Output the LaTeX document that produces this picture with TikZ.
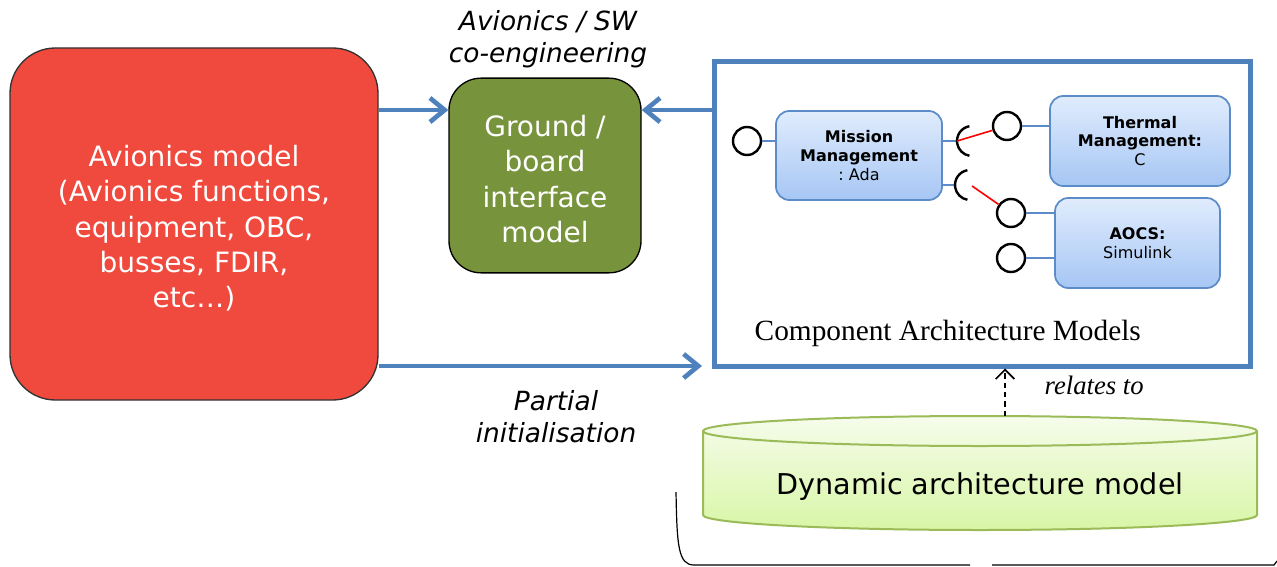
\documentclass[tikz,border=0pt]{standalone}
\usepackage{fontspec}
\setmainfont{DejaVu Sans}
\newfontfamily\tnr{Liberation Serif}
\usetikzlibrary{arrows.meta,calc}
\definecolor{redbox}{HTML}{F0493D}
\definecolor{greenbox}{HTML}{77933C}
\definecolor{frameblue}{HTML}{4F81BD}
\definecolor{compborder}{HTML}{5B8CC8}
\definecolor{comptop}{HTML}{E0ECFD}
\definecolor{compbot}{HTML}{A6C6F4}
\definecolor{cyltop}{HTML}{F6FCEC}
\definecolor{cylbot}{HTML}{D8F6A6}
\definecolor{cylborder}{HTML}{9BBB59}
\definecolor{linkred}{HTML}{FF0000}
\tikzset{
  bigtext/.style={font=\fontsize{21}{26.5}\selectfont, text=white, align=center},
  barrow/.style={draw=frameblue, line width=3.5pt, -{Straight Barb[length=11pt,width=18pt,line width=3.5pt]}},
  compbox/.style={draw=compborder, line width=1.3pt, rounded corners=10pt, top color=comptop, bottom color=compbot, inner sep=0pt, align=center, font=\fontsize{12}{14.2}\selectfont},
  port/.style={circle, draw=black, line width=1.8pt, minimum size=21pt, inner sep=0pt, fill=white},
  plink/.style={draw=compborder, line width=1.5pt},
  rlink/.style={draw=linkred, line width=1.2pt},
  sock/.style={draw=black, line width=1.8pt},
  ital/.style={font=\fontsize{19.8}{24}\selectfont\itshape, align=center}
}
\begin{document}
\begin{tikzpicture}[x=0.75pt,y=-0.75pt]
\useasboundingbox (0,0) rectangle (1277,567);
% main boxes
\node[draw=black!80, line width=1pt, fill=redbox, rounded corners=34pt, minimum width=276pt, minimum height=264pt, inner sep=0pt] (red) at (194,224) {};
\node[bigtext] (redtext) at (194,228.5)
  {Avionics model\\(Avionics functions,\\equipment, OBC,\\busses, FDIR,\\etc…)};
\node[draw=black, line width=1pt, fill=greenbox, rounded corners=24pt, minimum width=144pt, minimum height=146pt, inner sep=0pt] (green) at (545,175.5) {};
\node[bigtext] (greentext) at (545,179)
  {Ground /\\board\\interface\\model};
\node[draw=frameblue, line width=3.75pt, minimum width=402pt, minimum height=228pt, inner sep=0pt] (frame) at (982,214) {};
% labels
\node[ital] (t1) at (548,39) {Avionics / SW\\co-engineering};
\node[ital] (t2) at (556,417) {Partial\\initialisation};
\node[anchor=west, font=\fontsize{22}{24}\tnr] (t3) at (750,333) {Component Architecture Models};
\node[anchor=west, font=\fontsize{20}{24}\tnr\itshape] (t4) at (1040,385) {relates to};
% arrows
\coordinate (ya) at (0,110);
\coordinate (yb) at (0,366);
\coordinate (tipb) at (702,366);
\draw[barrow] (red.east |- ya) -- (green.west |- ya);
\draw[barrow] (frame.west |- ya) -- (green.east |- ya);
\draw[barrow] (red.east |- yb) -- (tipb);
% components
\node[compbox, minimum width=124.5pt, minimum height=66.75pt] (mm) at (859,155.5) {\textbf{Mission}\\\textbf{Management}\\:\ Ada};
\node[compbox, minimum width=135pt, minimum height=67.5pt] (tm) at (1140,141) {\textbf{Thermal}\\\textbf{Management:}\\C};
\node[compbox, minimum width=123.75pt, minimum height=67.5pt] (ao) at (1137.5,243) {\textbf{AOCS:}\\Simulink};
% ports
\node[port] (p1) at (747,141) {};
\node[port] (p2) at (1007,126) {};
\node[port] (p3) at (1011,213) {};
\node[port] (p4) at (1011,258) {};
\draw[plink] (p1) -- (mm.west |- p1);
\draw[plink] (p2) -- (tm.west |- p2);
\draw[plink] (p3) -- (ao.west |- p3);
\draw[plink] (p4) -- (ao.west |- p4);
% sockets
\coordinate (s1) at (957,141);
\coordinate (s2) at (955,185);
\coordinate (sc2) at (972,186);
\draw[plink] (mm.east |- s1) -- (s1);
\draw[plink] (mm.east |- s2) -- (s2);
\draw[sock] (972,141) ++(100:11.25pt) arc[start angle=100,end angle=260,radius=11.25pt];
\draw[sock] (970,185) ++(100:11.25pt) arc[start angle=100,end angle=260,radius=11.25pt];
\draw[rlink] (s1) -- (p2);
\draw[rlink] (sc2) -- (p3);
% cylinder
\path[draw=cylborder, line width=1.5pt, top color=cyltop, bottom color=cylbot]
  (703,431) -- (703,515) arc[start angle=180,end angle=360,x radius=207.75pt,y radius=11.25pt]
  -- (1257,431) arc[start angle=0,end angle=180,x radius=207.75pt,y radius=11.25pt] -- cycle;
\draw[draw=cylborder, line width=1.5pt] (703,431) arc[start angle=180,end angle=360,x radius=207.75pt,y radius=11.25pt];
\node[font=\fontsize{21.5}{26}\selectfont] (dyn) at (980,487) {Dynamic architecture model};
\coordinate (ctop) at (1005,416);
\draw[line width=1.2pt, dash pattern=on 4pt off 3pt, -{Straight Barb[length=7pt,width=14pt,line width=1.3pt]}] (ctop) -- (frame.south -| ctop);
% bracket
\draw[line width=0.9pt] (676,492) .. controls (677,545) and (678,565) .. (694,565) -- (970,565);
\draw[line width=0.9pt] (992,565) -- (1274,565) -- (1277,561);
\end{tikzpicture}
\end{document}
